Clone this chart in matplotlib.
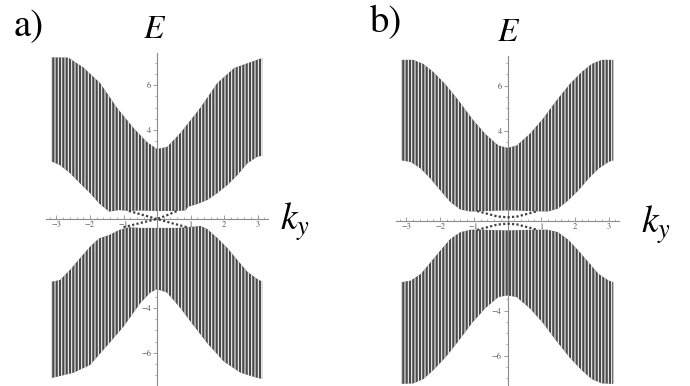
import numpy as np
import matplotlib
matplotlib.use("Agg")
import matplotlib.pyplot as plt
from matplotlib.ticker import FixedLocator, MultipleLocator

plt.rcParams['font.family'] = ['STIXGeneral', 'Liberation Serif', 'DejaVu Serif']
plt.rcParams['mathtext.fontset'] = 'stix'
plt.rcParams['hatch.linewidth'] = 0.75

# ---------------- data: panel a ----------------
a_up_top_k = [-3.14, -2.65, -2.2, -1.7, -1.2, -0.7, -0.3, 0.0, 0.3, 0.7, 1.3, 1.8, 2.3, 2.8, 3.14]
a_up_top_E = [7.25, 7.24, 6.8, 6.1, 5.0, 4.08, 3.45, 3.14, 3.23, 3.86, 5.0, 6.1, 6.77, 7.04, 7.22]
a_up_bot_k = [-3.14, -2.9, -2.6, -2.3, -2.0, -1.73, -1.43, -1.13, -0.84, -0.5, 0.0, 0.5, 0.85, 0.93, 1.2, 1.5, 1.8, 2.1, 2.4, 2.7, 3.0, 3.14]
a_up_bot_E = [2.57, 2.42, 2.06, 1.6, 1.16, 0.7, 0.33, 0.4, 0.36, 0.38, 0.36, 0.36, 0.38, 0.55, 0.67, 0.85, 1.16, 1.52, 1.97, 2.5, 2.8, 2.83]
a_lo_top_k = [-3.14, -2.9, -2.6, -2.3, -2.0, -1.73, -1.43, -1.13, -0.84, -0.5, 0.0, 0.6, 1.0, 1.3, 1.5, 1.8, 2.1, 2.4, 2.7, 3.0, 3.14]
a_lo_top_E = [-2.81, -2.74, -2.29, -1.76, -1.24, -0.87, -0.72, -0.49, -0.37, -0.4, -0.4, -0.4, -0.36, -0.31, -0.45, -0.85, -1.3, -1.84, -2.37, -2.7, -2.81]
a_lo_bot_k = [-3.14, -2.5, -2.0, -1.5, -1.0, -0.5, -0.2, 0.0, 0.3, 0.7, 1.0, 1.5, 2.0, 2.5, 3.0, 3.14]
a_lo_bot_E = [-7.13, -6.9, -6.55, -5.7, -4.83, -3.78, -3.3, -3.15, -3.3, -4.0, -4.6, -5.57, -6.4, -6.9, -7.13, -7.17]
a_edge1_k = [-0.84, -0.42, 0.0, 0.45, 0.9]
a_edge1_E = [0.36, 0.18, 0.0, -0.19, -0.37]
a_edge2_k = [-1.0, -0.5, 0.0, 0.3, 0.6]
a_edge2_E = [-0.37, -0.18, 0.0, 0.17, 0.36]

# ---------------- data: panel b ----------------
b_up_top_k = [-3.14, -2.8, -2.5, -2.2, -1.85, -1.45, -1.05, -0.66, -0.27, 0.0, 0.27, 0.66, 1.05, 1.45, 1.85, 2.2, 2.5, 2.8, 3.14]
b_up_top_E = [7.14, 7.14, 6.96, 6.6, 6.07, 5.33, 4.52, 3.85, 3.33, 3.23, 3.33, 3.85, 4.52, 5.33, 6.07, 6.6, 6.96, 7.14, 7.14]
b_up_bot_k = [-3.14, -2.87, -2.57, -2.28, -1.99, -1.69, -1.4, -1.1, -0.81, -0.3, 0.0, 0.3, 0.81, 1.2, 1.5, 1.8, 2.1, 2.4, 2.7, 3.0, 3.14]
b_up_bot_E = [2.67, 2.6, 2.3, 1.85, 1.33, 0.81, 0.49, 0.4, 0.41, 0.44, 0.45, 0.44, 0.41, 0.4, 0.53, 0.89, 1.33, 1.85, 2.3, 2.6, 2.67]
b_lo_top_k = [-3.14, -2.87, -2.57, -2.28, -1.99, -1.69, -1.4, -1.1, -0.81, -0.3, 0.0, 0.3, 0.81, 1.2, 1.5, 1.8, 2.1, 2.4, 2.7, 3.0, 3.14]
b_lo_top_E = [-2.74, -2.67, -2.37, -1.85, -1.33, -0.81, -0.52, -0.41, -0.41, -0.43, -0.44, -0.43, -0.41, -0.41, -0.52, -0.85, -1.33, -1.85, -2.37, -2.67, -2.74]
b_lo_bot_k = [-3.14, -2.8, -2.5, -2.2, -1.85, -1.45, -1.05, -0.66, -0.27, 0.0, 0.27, 0.66, 1.05, 1.45, 1.85, 2.2, 2.5, 2.8, 3.14]
b_lo_bot_E = [-7.26, -7.24, -7.05, -6.65, -6.1, -5.35, -4.55, -3.9, -3.4, -3.33, -3.4, -3.9, -4.55, -5.35, -6.1, -6.65, -7.05, -7.24, -7.26]
b_edge_up_k = [-0.9, -0.6, -0.3, 0.0, 0.3, 0.6, 0.9]
b_edge_up_E = [0.42, 0.3, 0.18, 0.14, 0.18, 0.3, 0.42]
b_edge_lo_k = [-0.9, -0.6, -0.3, 0.0, 0.3, 0.6, 0.9]
b_edge_lo_E = [-0.42, -0.3, -0.18, -0.14, -0.18, -0.3, -0.42]

x_ticks = [-3, -2, -1, 1, 2, 3]
x_tick_labels = ["\u22123", "\u22122", "\u22121", "1", "2", "3"]
y_ticks = [-6, -4, -2, 2, 4, 6]
y_tick_labels = ["\u22126", "\u22124", "\u22122", "2", "4", "6"]

W, H = 690, 386
BAND = '#4a4a4a'
AXC = '#8c8c8c'

fig = plt.figure(figsize=(6.9, 3.86), dpi=100)


def make_axes(left, right, top, bottom, xlim, ylim):
    ax = fig.add_axes([left / W, 1 - bottom / H, (right - left) / W, (bottom - top) / H])
    ax.set_xlim(*xlim)
    ax.set_ylim(*ylim)
    ax.patch.set_alpha(0)
    for s in ['top', 'right']:
        ax.spines[s].set_visible(False)
    ax.spines['left'].set_position(('data', 0))
    ax.spines['bottom'].set_position(('data', 0))
    for s in ['left', 'bottom']:
        ax.spines[s].set_color(AXC)
        ax.spines[s].set_linewidth(0.8)
    ax.xaxis.set_major_locator(FixedLocator(x_ticks))
    ax.set_xticklabels(x_tick_labels)
    ax.xaxis.set_minor_locator(MultipleLocator(0.2))
    ax.yaxis.set_major_locator(FixedLocator(y_ticks))
    ax.set_yticklabels(y_tick_labels)
    ax.yaxis.set_minor_locator(MultipleLocator(0.5))
    ax.tick_params(axis='x', which='major', direction='in', length=3.2, width=0.6,
                   color=AXC, labelsize=6, labelcolor='#555555', pad=1.5)
    ax.tick_params(axis='x', which='minor', direction='in', length=1.8, width=0.5, color=AXC)
    ax.tick_params(axis='y', which='major', direction='out', length=3.2, width=0.6,
                   color=AXC, labelsize=6, labelcolor='#555555', pad=1)
    ax.tick_params(axis='y', which='minor', direction='out', length=1.8, width=0.5, color=AXC)
    ax.set_axisbelow(True)
    return ax


def band(ax, tk, tE, bk, bE):
    xs = np.r_[np.asarray(tk), np.asarray(bk)[::-1]]
    ys = np.r_[np.asarray(tE), np.asarray(bE)[::-1]]
    ax.fill(xs, ys, facecolor=BAND, edgecolor='white', linewidth=0, hatch='|||||', zorder=1)


# panel a
axa = make_axes(46.45, 267.55, 52.9, 385.1, (-3.3, 3.3), (-7.45, 7.45))
band(axa, a_up_top_k, a_up_top_E, a_up_bot_k, a_up_bot_E)
band(axa, a_lo_top_k, a_lo_top_E, a_lo_bot_k, a_lo_bot_E)
for k, e in [(a_edge1_k, a_edge1_E), (a_edge2_k, a_edge2_E)]:
    axa.plot(k, e, color='#404040', lw=1.6, linestyle=(0, (1, 1)), zorder=3)

# panel b
axb = make_axes(396.3, 618.7, 56.25, 385.9, (-3.3, 3.3), (-7.35, 7.3))
band(axb, b_up_top_k, b_up_top_E, b_up_bot_k, b_up_bot_E)
band(axb, b_lo_top_k, b_lo_top_E, b_lo_bot_k, b_lo_bot_E)
for k, e in [(b_edge_up_k, b_edge_up_E), (b_edge_lo_k, b_edge_lo_E)]:
    axb.plot(k, e, color='#404040', lw=1.6, linestyle=(0, (1, 1)), zorder=3)


def ftext(x, y, s, size):
    fig.text(x / W, 1 - y / H, s, ha='center', va='center', fontsize=size, color='black')


ftext(29, 27, "a)", 28)
ftext(386, 23, "b)", 28)
ftext(155, 30, r"$E$", 24)
ftext(509, 33, r"$E$", 24)
ftext(295, 222, r"$k_y$", 27)
ftext(656, 225, r"$k_y$", 27)

fig.savefig("out.png", dpi=100)
